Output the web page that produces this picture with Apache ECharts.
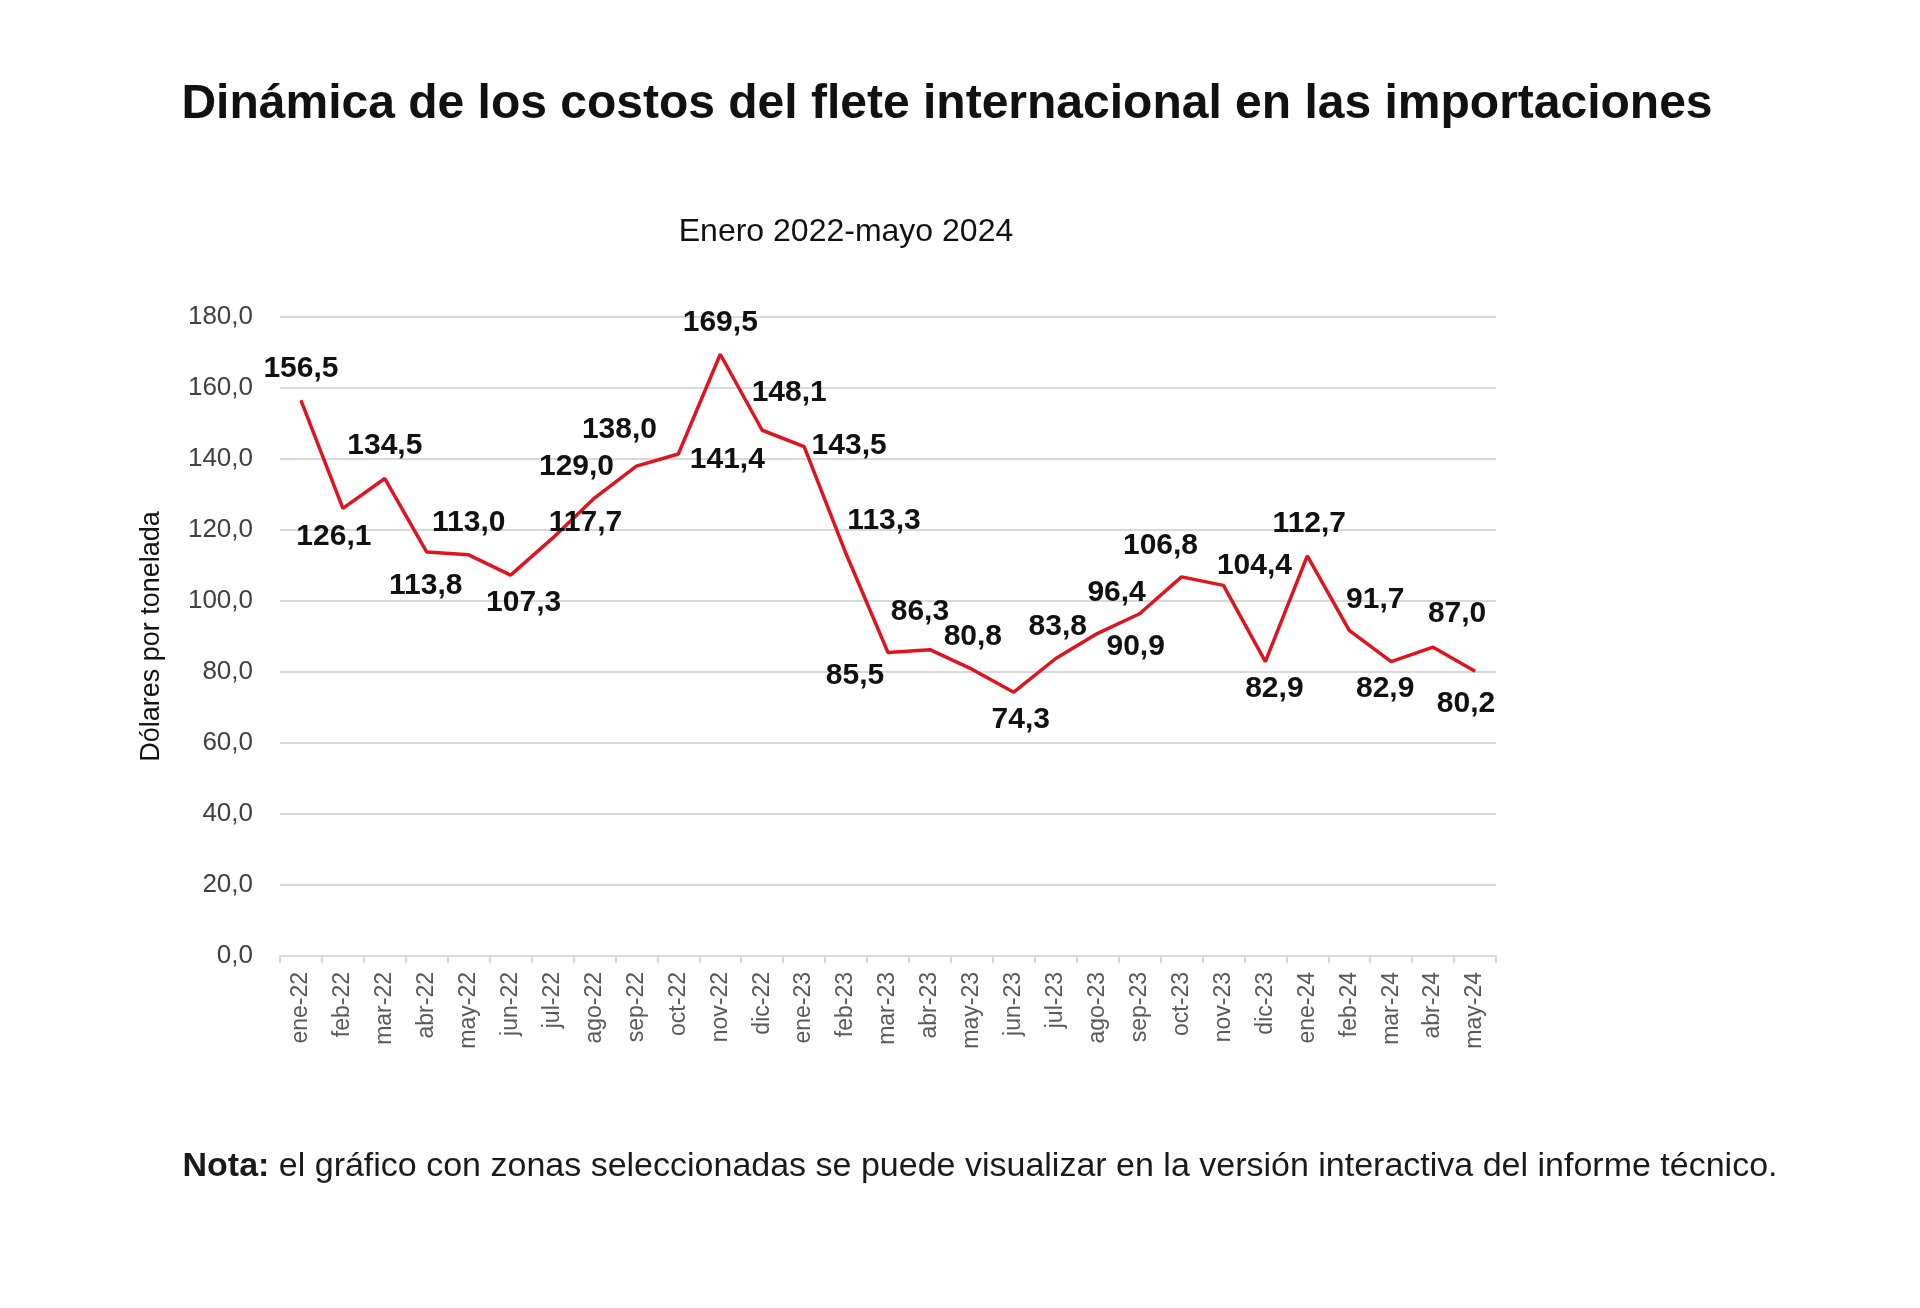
<!DOCTYPE html>
<html>
<head>
<meta charset="utf-8">
<script src="https://cdn.jsdelivr.net/npm/echarts@6/dist/echarts.min.js"></script>
<style>
html,body{margin:0;padding:0;background:#fff;}
#chart{width:1920px;height:1308px;}
</style>
</head>
<body>
<div id="chart"></div>
<script>
const months = ["ene-22","feb-22","mar-22","abr-22","may-22","jun-22","jul-22","ago-22","sep-22","oct-22","nov-22","dic-22",
  "ene-23","feb-23","mar-23","abr-23","may-23","jun-23","jul-23","ago-23","sep-23","oct-23","nov-23","dic-23",
  "ene-24","feb-24","mar-24","abr-24","may-24"];
const costs = [156.5,126.1,134.5,113.8,113.0,107.3,117.7,129.0,138.0,141.4,169.5,148.1,
  143.5,113.3,85.5,86.3,80.8,74.3,83.8,90.9,96.4,106.8,104.4,82.9,
  112.7,91.7,82.9,87.0,80.2];
const yTicks = {min: 0, max: 180, interval: 20};

const titleText = "Dinámica de los costos del flete internacional en las importaciones";
const subtitleText = "Enero 2022-mayo 2024";
const yAxisName = "Dólares por tonelada";
const noteBold = "Nota:";
const noteText = " el gráfico con zonas seleccionadas se puede visualizar en la versión interactiva del informe técnico.";

// label placement (style only): offset of each value label from its point, px
const labelOffsets = [[0,-32],[-9,28],[0,-33],[-1,34],[0,-32],[13,28],[33,-15],[-18,-31],[-17,-36],[49,6],[0,-32],[27,-38],
  [45,-1],[38,-33],[-33,23],[-10,-38],[1,-32],[7,27],[2,-32],[38,13],[-23,-21],[-21,-31],[31,-20],[9,27],
  [2,-32],[26,-31],[-6,27],[24,-33],[-9,32]];

const SANS = "'Liberation Sans',Arial,Helvetica,sans-serif";
const fmt = v => Number(v).toFixed(1).replace('.', ',');

const chart = echarts.init(document.getElementById('chart'), null, {renderer: 'canvas'});
chart.setOption({
  backgroundColor: '#ffffff',
  animation: false,
  title: [
    {text: titleText, left: 942, top: 100, textAlign: 'center', textVerticalAlign: 'middle',
     textStyle: {fontFamily: SANS, fontWeight: 'bold', fontSize: 48, color: '#111'}},
    {text: subtitleText, left: 841, top: 227, textAlign: 'center', textVerticalAlign: 'middle',
     textStyle: {fontFamily: SANS, fontWeight: 'normal', fontSize: 32, color: '#111'}},
    {text: '{b|' + noteBold + '}' + noteText, left: 975, top: 1162, textAlign: 'center', textVerticalAlign: 'middle',
     textStyle: {fontFamily: SANS, fontSize: 34, fontWeight: 'normal', color: '#1a1a1a',
       rich: {b: {fontFamily: SANS, fontSize: 34, fontWeight: 'bold', color: '#1a1a1a'}}}}
  ],
  grid: {left: 280, right: 424, top: 317, bottom: 352, containLabel: false},
  xAxis: {
    type: 'category', data: months, boundaryGap: true,
    axisLine: {show: true, lineStyle: {color: '#d9d9d9', width: 2}},
    axisTick: {show: true, interval: 0, length: 7, lineStyle: {color: '#d9d9d9', width: 2}},
    axisLabel: {interval: 0, rotate: 90, margin: 16, fontFamily: SANS, fontSize: 23, color: '#595959'}
  },
  yAxis: {
    type: 'value', min: yTicks.min, max: yTicks.max, interval: yTicks.interval,
    name: yAxisName, nameLocation: 'middle', nameRotate: 90, nameGap: 115,
    nameTextStyle: {fontFamily: SANS, fontSize: 27, color: '#111'},
    axisLine: {show: false}, axisTick: {show: false},
    axisLabel: {formatter: fmt, margin: 27, fontFamily: SANS, fontSize: 26, color: '#404040'},
    splitLine: {show: true, lineStyle: {color: '#d9d9d9', width: 2}}
  },
  series: [{
    type: 'line', data: costs.map((v, i) => ({value: v, label: {offset: labelOffsets[i]}})),
    symbol: 'circle', symbolSize: 1, showSymbol: true,
    itemStyle: {color: '#E0141E'},
    lineStyle: {color: '#E0141E', width: 3.5},
    label: {show: true, position: 'inside', formatter: p => fmt(p.value),
      fontFamily: SANS, fontWeight: 'bold', fontSize: 30, color: '#111'}
  }]
});
</script>
</body>
</html>
